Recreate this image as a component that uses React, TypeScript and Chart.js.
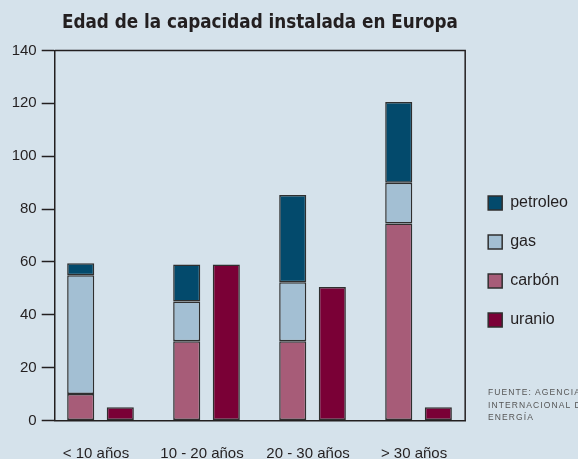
import React, { useEffect, useRef } from "react";
import { Chart, registerables } from "chart.js";

Chart.register(...registerables);

const categories = ["< 10 años", "10 - 20 años", "20 - 30 años", "> 30 años"];
const carbon = [10, 30, 30, 74.5];
const gas = [45, 15, 22.3, 15.5];
const petroleo = [4.5, 14, 33, 30.5];
const uranio = [5, 59, 50.5, 5];
const legendOrder = ["petroleo", "gas", "carbón", "uranio"];
const titleText = "Edad de la capacidad instalada en Europa";
const sourceLines = ["FUENTE: AGENCIA", "INTERNACIONAL DE", "ENERGÍA"];

const BG = "#d5e2eb";
const AXIS = "#231f20";
const BAR_BORDER = "#2f2f2f";
const FONT = '"Liberation Sans", Arial, sans-serif';
const NARROW = '"Liberation Sans Narrow", "DejaVu Sans Condensed", "Liberation Sans", sans-serif';

const toPoints = (arr: number[]) => arr.map((v, i) => ({ x: i, y: v }));

const framePlugin = {
  id: "frame",
  afterDatasetsDraw(chart: any) {
    const { ctx, chartArea } = chart;
    const { left, top, right, bottom } = chartArea;
    ctx.save();
    ctx.strokeStyle = AXIS;
    ctx.lineWidth = 1.5;
    ctx.beginPath();
    ctx.moveTo(left, top);
    ctx.lineTo(right, top);
    ctx.lineTo(right, bottom);
    ctx.stroke();
    ctx.restore();
  },
};

export default function App() {
  const ref = useRef<HTMLCanvasElement | null>(null);

  useEffect(() => {
    if (!ref.current) return;
    const common = {
      borderColor: BAR_BORDER,
      borderWidth: 1.5,
      borderSkipped: false,
      categoryPercentage: 0.747,
      barPercentage: 0.684,
    };
    const chart = new Chart(ref.current, {
      type: "bar",
      data: {
        datasets: [
          { label: "carbón", data: toPoints(carbon), backgroundColor: "#a75c78", stack: "fosil", ...common },
          { label: "gas", data: toPoints(gas), backgroundColor: "#a3bfd3", stack: "fosil", ...common },
          { label: "petroleo", data: toPoints(petroleo), backgroundColor: "#034a6c", stack: "fosil", ...common },
          { label: "uranio", data: toPoints(uranio), backgroundColor: "#7a0036", stack: "nuclear", ...common },
        ] as any,
      },
      options: {
        responsive: false,
        animation: false,
        devicePixelRatio: 1,
        layout: { padding: 0 },
        scales: {
          x: {
            type: "linear",
            min: -0.432,
            max: 3.44,
            offset: false,
            stacked: true,
            grid: { display: true, drawOnChartArea: false, drawTicks: false, offset: false },
            border: { display: true, color: AXIS, width: 1.5 },
            afterBuildTicks: (s: any) => {
              s.ticks = categories.map((_, i) => ({ value: i }));
            },
            ticks: {
              callback: (v: any) => categories[v] ?? "",
              font: { family: FONT, size: 15 },
              color: AXIS,
              padding: 24,
              labelOffset: -4.5,
              maxRotation: 0,
              autoSkip: false,
            },
            afterFit: (s: any) => {
              s.height = 38.5;
            },
          },
          y: {
            min: 0,
            max: 140,
            stacked: true,
            ticks: { stepSize: 20, padding: 5, font: { family: FONT, size: 15 }, color: AXIS },
            grid: {
              display: true,
              drawOnChartArea: false,
              drawTicks: true,
              tickLength: 13,
              tickColor: AXIS,
              tickWidth: 1.5,
            },
            border: { display: true, color: AXIS, width: 1.5 },
            afterFit: (s: any) => {
              s.width = 54.7;
            },
          },
        } as any,
        plugins: {
          title: {
            display: true,
            text: titleText,
            fullSize: false,
            color: AXIS,
            font: { family: NARROW, size: 18.7, weight: "bold", lineHeight: 1.2 },
            padding: { top: 11.8, bottom: 16.26 },
          },
          legend: {
            position: "right",
            align: "start",
            fullSize: false,
            maxWidth: 113.7,
            title: {
              display: true,
              text: "",
              font: { size: 10, lineHeight: 1 },
              padding: { top: 111.5, bottom: 0 },
            },
            labels: {
              boxWidth: 14,
              boxHeight: 14,
              padding: 23,
              color: AXIS,
              font: { family: FONT, size: 16 },
              sort: (a: any, b: any) => legendOrder.indexOf(a.text) - legendOrder.indexOf(b.text),
            },
          },
          tooltip: { enabled: false },
        } as any,
      },
      plugins: [framePlugin],
    });
    return () => chart.destroy();
  }, []);

  return (
    <div
      style={{
        position: "fixed",
        left: 0,
        top: 0,
        width: 578,
        height: 459,
        overflow: "hidden",
        background: BG,
      }}
    >
      <canvas ref={ref} width={578} height={459} style={{ position: "absolute", left: 0, top: 0 }} />
      <div
        style={{
          position: "absolute",
          left: 488,
          top: 386,
          fontFamily: FONT,
          fontSize: 8.5,
          letterSpacing: "1.1px",
          lineHeight: "12.5px",
          color: "#555",
          whiteSpace: "nowrap",
        }}
      >
        {sourceLines.map((l) => (
          <div key={l}>{l}</div>
        ))}
      </div>
    </div>
  );
}
